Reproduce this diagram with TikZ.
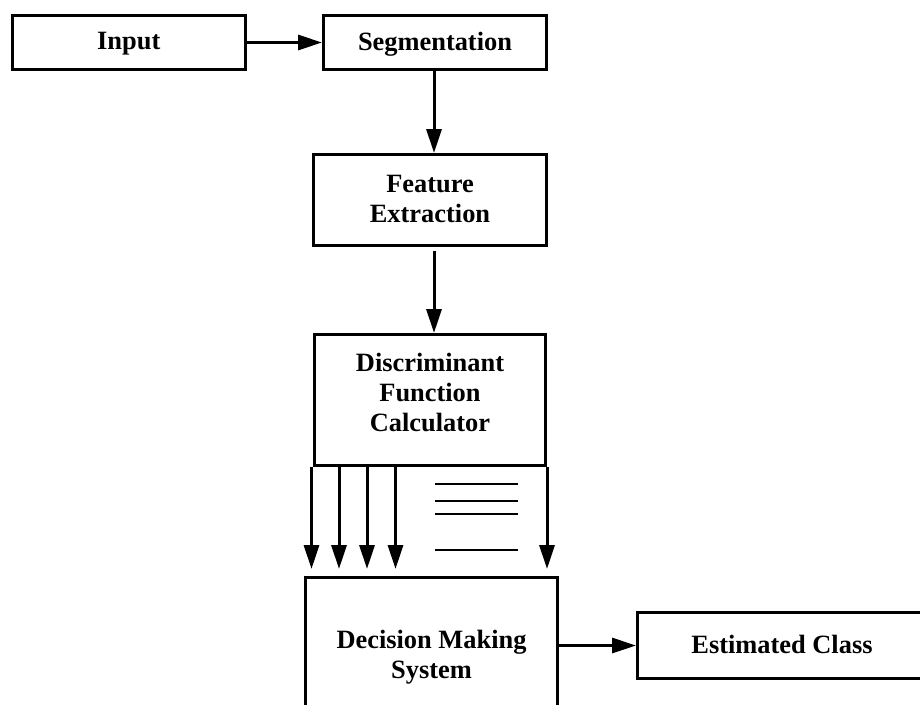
\documentclass[tikz,border=0pt]{standalone}
\usepackage{fontspec}
\setmainfont{Liberation Serif}
\usetikzlibrary{arrows.meta}
\begin{document}
\begin{tikzpicture}[x=1pt,y=-1pt,
  box/.style={draw=black,line width=3pt,rectangle,inner sep=0pt,fill=white},
  lbl/.style={font=\fontsize{26.4}{30}\bfseries\selectfont,align=center,inner sep=0pt},
  arr/.style={line width=3pt,-{Triangle[length=24pt,width=15pt]}},
  thinline/.style={line width=2pt}]
\path[use as bounding box,clip] (0,0) rectangle (920,704);
\fill[white] (0,0) rectangle (920,704);
% boxes
\node[box,minimum width=232.5pt,minimum height=54pt] (input) at (128.75,42.5) {};
\node[lbl] (inputT) at (128.75,44) {Input};
\node[box,minimum width=223pt,minimum height=54pt] (seg) at (435,42.5) {};
\node[lbl] (segT) at (435,44) {Segmentation};
\node[box,minimum width=233pt,minimum height=91pt] (feat) at (430,200) {};
\node[lbl] (featT) at (430,199) {Feature\\Extraction};
\node[box,minimum width=231pt,minimum height=131pt] (disc) at (430,400) {};
\node[lbl] (discT) at (430,392) {Discriminant\\Function\\Calculator};
\node[box,minimum width=252pt,minimum height=190pt] (dec) at (431.5,672.5) {};
\node[lbl] (decT) at (431.5,657) {Decision Making\\System};
\node[box,minimum width=302.5pt,minimum height=66pt] (est) at (788.75,645.5) {};
\node[lbl] (estT) at (782,644) {Estimated Class};
% connector end points
\coordinate (segOut) at ([xshift=-1pt]seg.south);
\coordinate (featOut) at ([xshift=4pt]feat.south);
% connectors
\draw[arr] (input.east) -- (seg.west);
\draw[arr] (segOut) -- (segOut |- feat.north);
\draw[arr,shorten <=4pt] (featOut) -- (featOut |- disc.north);
\draw[arr,shorten >=7pt] ([xshift=-1.5pt]disc.south west) -- ([xshift=-1.5pt]disc.south west |- dec.north);
\draw[arr,shorten >=7pt] ([xshift=26pt]disc.south west) -- ([xshift=26pt]disc.south west |- dec.north);
\draw[arr,shorten >=7pt] ([xshift=54pt]disc.south west) -- ([xshift=54pt]disc.south west |- dec.north);
\draw[arr,shorten >=7pt] ([xshift=82.5pt]disc.south west) -- ([xshift=82.5pt]disc.south west |- dec.north);
\draw[arr,shorten >=7pt] (disc.south east) -- (disc.south east |- dec.north);
\draw[arr] (dec.east |- est.west) -- (est.west);
% ellipsis lines
\draw[thinline] (435,484) -- (518,484);
\draw[thinline] (435,501) -- (518,501);
\draw[thinline] (435,514) -- (518,514);
\draw[thinline] (435,550) -- (518,550);
\end{tikzpicture}
\end{document}
